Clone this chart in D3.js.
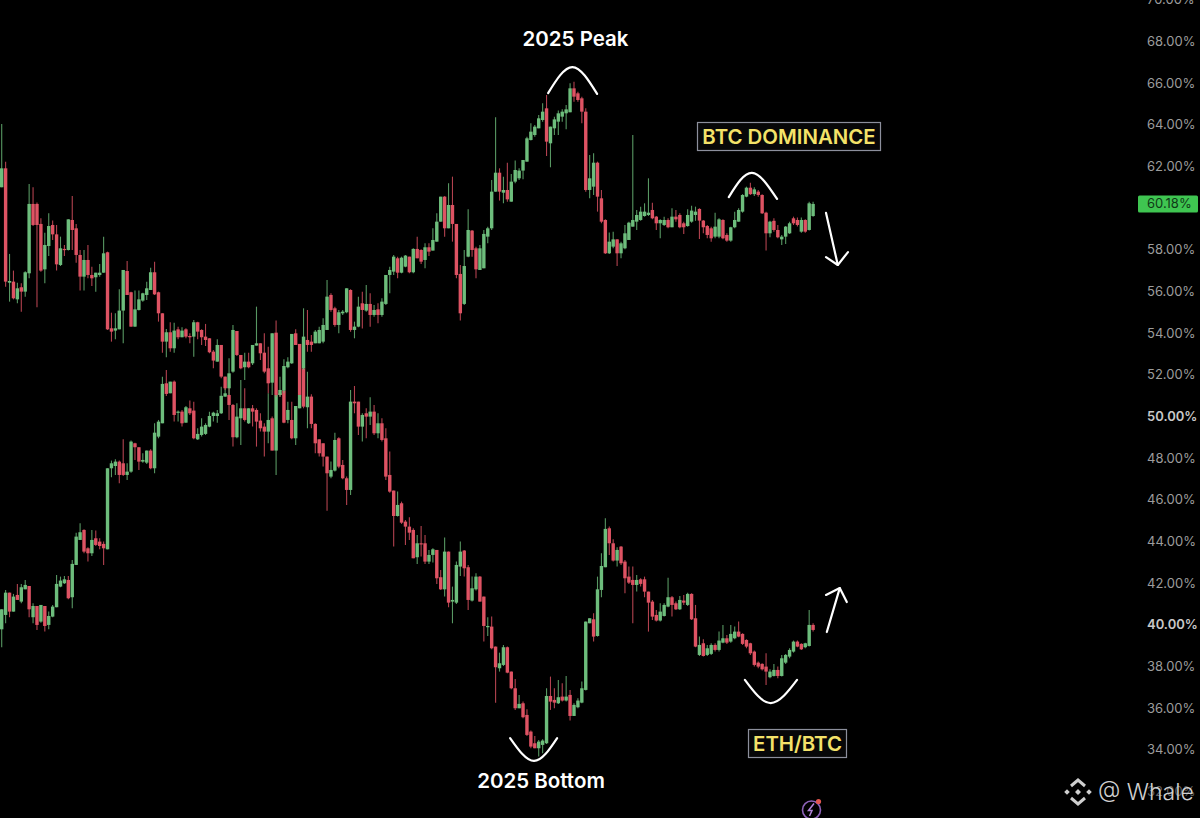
<!DOCTYPE html>
<html><head><meta charset="utf-8">
<script src="https://cdn.jsdelivr.net/npm/d3@7"></script>
<style>html,body{margin:0;padding:0;background:#000;overflow:hidden}svg{display:block}</style>
</head><body><div id="chart"></div>
<script>
// each candle: [open, high, low, close] in percent
const btcDominance = [
[60.98,64.02,60.98,61.89],[61.89,62.21,56.21,56.45],[56.40,57.78,55.49,56.48],[56.45,56.98,55.60,55.65],[55.60,56.40,55.41,56.13],
[56.18,56.37,55.01,55.97],[55.97,56.95,55.73,56.90],[56.85,61.14,56.61,60.18],[60.18,60.98,59.12,59.17],[60.18,60.25,55.22,59.17],
[59.22,59.49,56.93,56.98],[57.04,58.80,56.37,58.21],[58.16,59.73,57.68,59.12],[59.17,59.38,58.45,58.72],[58.72,59.17,56.98,57.28],
[57.25,58.61,57.20,58.05],[58.02,58.21,57.68,57.97],[57.97,59.44,57.94,59.44],[59.41,60.56,57.97,58.93],[59.01,59.22,57.36,57.73],
[57.73,57.97,56.02,56.69],[56.69,57.97,56.02,57.49],[57.49,58.21,56.61,56.77],[56.77,57.17,56.24,56.61],[56.66,56.88,55.97,56.88],
[56.77,57.30,56.69,56.88],[56.88,58.61,56.88,57.81],[57.86,57.89,54.13,54.16],[54.21,54.96,53.57,54.05],[54.10,54.93,53.68,54.21],
[54.16,56.08,54.16,55.06],[55.06,57.01,53.49,57.01],[56.96,57.44,55.81,55.81],[55.94,55.97,54.29,54.29],[54.29,56.02,54.29,55.12],
[55.09,56.02,55.06,55.60],[55.54,55.92,55.49,55.89],[55.81,56.45,55.57,56.13],[56.05,57.12,56.05,56.90],[56.90,57.41,55.81,55.84],
[55.94,55.97,54.53,54.93],[54.93,54.93,53.04,53.57],[53.57,54.18,52.82,54.02],[54.02,54.50,53.09,53.25],[53.25,54.48,53.04,54.10],
[54.16,54.29,53.68,53.78],[53.78,54.26,53.78,54.10],[54.16,54.21,53.73,53.81],[53.84,53.97,53.49,53.78],[53.81,54.61,52.85,54.50],
[54.50,54.53,53.68,54.05],[54.13,54.16,53.41,53.78],[53.81,54.42,53.36,53.65],[53.73,53.73,53.01,53.06],[53.09,53.17,52.29,52.66],
[52.61,53.68,52.61,53.41],[53.41,53.41,51.81,51.89],[51.89,51.89,51.25,51.33],[51.33,52.77,51.01,52.05],[52.13,54.37,52.08,54.13],
[54.08,54.08,52.88,52.93],[52.93,52.93,52.24,52.29],[52.34,53.04,51.73,52.61],[52.61,53.04,52.29,52.34],[52.53,53.41,52.45,53.41],
[53.38,55.25,53.38,53.49],[53.49,53.49,52.69,53.01],[53.04,53.97,52.05,52.13],[52.29,53.33,51.09,51.57],[51.60,53.97,51.01,53.97],
[54.00,54.58,50.93,51.01],[51.01,51.89,50.93,51.25],[51.22,52.72,51.09,52.40],[52.34,52.82,52.29,52.61],[52.53,53.94,52.50,53.94],
[53.97,54.16,53.41,53.41],[53.46,53.46,51.01,51.01],[52.29,55.17,52.21,53.81],[53.65,55.09,53.09,53.41],[53.57,53.89,53.09,53.41],
[53.49,54.13,53.49,54.05],[53.49,54.29,53.49,54.13],[53.57,54.69,53.49,54.37],[54.13,56.53,54.13,55.73],[55.81,55.89,55.01,55.09],
[55.17,55.25,54.29,54.37],[54.37,55.09,53.97,54.98],[54.93,55.09,54.85,55.01],[54.98,56.13,54.93,56.13],[56.05,56.08,54.05,54.13],
[54.13,54.53,53.73,54.29],[54.29,55.73,54.26,55.25],[55.41,55.97,54.20,55.09],[55.06,56.29,55.01,55.38],[55.38,55.89,54.29,54.85],
[54.85,55.33,54.77,55.09],[55.12,55.41,54.45,54.85],[54.85,55.65,54.77,55.49],[55.38,56.77,55.33,56.77],[56.77,57.17,55.89,57.01],
[56.93,57.73,56.77,57.65],[57.57,57.65,56.61,56.88],[56.88,57.65,56.85,57.60],[57.17,57.73,57.14,57.70],[57.65,57.65,56.85,56.90],
[56.90,58.05,56.85,58.02],[58.02,58.61,57.57,57.57],[57.97,58.00,57.30,57.41],[57.49,58.29,57.09,58.10],[58.10,58.29,57.68,57.89],
[57.94,59.01,57.94,58.45],[58.37,59.73,58.37,59.33],[59.33,60.53,59.33,60.53],[60.53,60.56,58.61,59.01],[59.01,61.17,59.01,60.13],
[60.13,61.49,58.37,59.22],[59.22,59.22,56.61,56.77],[56.82,57.25,54.58,54.93],[55.38,57.97,55.33,57.20],[57.65,59.92,57.62,58.93],
[58.90,58.93,57.65,57.97],[58.05,58.13,56.61,57.04],[57.01,58.21,57.01,58.05],[57.09,58.93,57.09,58.74],[58.61,59.09,58.29,59.01],
[59.01,61.33,58.93,60.77],[60.77,64.34,60.77,61.68],[61.68,61.89,60.34,60.77],[60.72,61.49,60.21,60.85],[60.85,62.16,60.29,60.40],
[60.29,61.62,60.29,61.25],[61.25,62.26,61.17,61.81],[61.41,61.89,61.33,61.78],[61.78,62.29,61.36,62.29],[62.21,63.41,62.21,63.33],
[63.25,64.05,63.22,63.65],[63.49,63.97,63.41,63.89],[63.81,64.45,63.81,64.29],[64.21,65.01,64.13,64.61],[64.77,65.41,62.48,63.17],
[63.09,63.89,61.94,63.89],[63.81,64.37,63.49,64.24],[64.13,64.66,63.49,64.53],[64.37,64.72,64.13,64.61],[64.53,64.93,63.76,64.72],
[64.58,65.97,64.58,65.73],[65.73,66.05,65.09,65.33],[65.49,65.57,65.09,65.17],[65.25,65.33,64.05,64.61],[64.61,64.77,60.77,60.85],
[60.85,62.53,60.45,61.41],[61.01,62.61,60.61,62.16],[62.16,62.21,59.81,60.53],[60.45,60.85,59.25,59.33],[59.41,59.44,57.78,57.81],
[57.81,58.81,57.78,58.37],[58.13,58.85,58.05,58.48],[58.48,58.48,57.20,57.81],[57.81,58.37,57.57,58.29],[58.05,59.17,58.00,58.77],
[58.45,59.33,58.45,59.28],[59.09,63.49,59.09,59.41],[59.33,59.89,58.93,59.65],[59.41,60.05,59.37,59.81],[59.60,60.21,59.57,59.81],
[59.65,61.41,59.60,59.76],[59.89,60.24,59.44,59.49],[59.57,59.60,58.93,59.25],[59.25,59.44,58.53,59.41],[59.17,59.57,59.12,59.41],
[59.41,59.49,59.01,59.06],[59.06,59.97,59.06,59.57],[59.57,59.89,59.33,59.44],[59.65,59.73,59.01,59.06],[59.25,59.33,58.74,59.06],
[59.12,59.92,59.09,59.65],[59.33,60.09,59.28,59.86],[59.65,60.05,59.37,59.81],[59.94,59.97,58.50,59.38],[59.38,59.41,58.77,59.06],
[59.12,59.17,58.53,58.69],[59.01,59.09,58.37,58.53],[58.61,59.76,58.53,59.09],[58.61,59.49,58.53,59.44],[59.41,59.44,58.48,58.53],
[58.69,58.77,58.37,58.42],[58.42,59.09,58.37,59.06],[59.06,59.81,59.01,59.41],[59.33,59.97,59.33,59.89],[59.81,60.65,59.76,60.61],
[60.53,61.01,60.50,60.96],[60.96,61.20,60.61,60.65],[60.65,60.98,60.56,60.88],[60.77,60.85,60.53,60.61],[60.61,60.65,59.70,59.73],
[59.76,59.81,57.94,58.77],[58.77,59.37,58.58,59.33],[59.37,59.49,58.85,58.93],[58.93,59.17,58.53,58.58],[58.48,58.69,58.21,58.61],
[58.61,59.12,58.26,59.09],[58.77,59.33,58.74,59.25],[59.49,59.57,59.17,59.25],[59.41,59.53,59.10,59.17],[58.85,59.53,58.80,59.41],
[59.41,59.45,58.80,58.85],[58.93,60.29,58.90,60.21],[59.60,60.29,59.57,60.18]
];
const ethBtc = [
[39.76,40.72,38.90,40.72],[40.45,41.65,40.05,41.52],[41.52,41.52,40.34,40.61],[40.61,41.46,40.61,41.33],[41.41,41.94,41.17,41.17],
[41.09,41.94,41.01,41.78],[41.68,42.13,41.68,41.89],[41.84,41.84,40.34,40.72],[40.34,41.01,40.05,40.88],[40.88,40.88,39.73,39.97],
[40.13,40.93,40.08,40.93],[40.88,40.88,39.65,39.92],[39.97,40.61,39.76,40.40],[40.37,40.93,40.34,40.85],[40.82,42.37,40.82,41.94],
[41.81,42.29,41.78,42.10],[41.97,42.32,41.94,42.16],[42.13,42.32,41.20,41.25],[41.30,43.09,40.77,42.90],[42.85,44.40,42.85,44.21],
[44.05,44.85,44.05,44.42],[44.53,44.56,43.41,43.49],[43.65,43.70,43.01,43.41],[43.41,44.53,43.28,44.05],[44.13,44.50,43.76,43.81],
[43.97,44.13,43.60,43.76],[43.86,43.97,42.85,43.65],[43.60,47.49,43.60,47.49],[47.49,47.86,47.06,47.73],[47.60,47.92,47.17,47.81],
[47.81,47.86,46.77,47.17],[47.73,48.88,47.12,47.17],[47.17,47.73,46.93,47.33],[47.33,48.82,47.28,48.77],[48.69,48.72,47.89,48.50],
[48.50,48.50,47.41,47.81],[47.81,48.21,47.76,47.89],[47.76,48.34,47.70,48.34],[48.34,48.40,47.44,47.49],[47.49,49.65,47.25,49.20],
[49.01,49.81,48.93,49.73],[49.65,51.89,49.65,51.54],[51.57,52.21,50.96,51.06],[51.09,51.65,51.09,51.65],[51.65,51.70,49.73,50.05],
[50.16,50.26,49.73,50.21],[50.21,50.29,49.49,49.65],[49.68,50.48,49.68,50.42],[50.37,50.74,50.05,50.13],[50.26,50.69,48.88,48.93],
[48.88,49.41,48.85,49.14],[49.09,49.89,49.01,49.49],[49.14,49.65,49.09,49.57],[49.49,50.21,49.46,50.00],[50.00,50.21,49.73,50.16],
[50.00,50.29,49.68,50.13],[50.13,51.41,50.10,50.97],[50.93,51.89,50.93,51.09],[51.01,51.41,49.81,50.53],[50.53,50.58,48.53,48.98],
[48.98,50.61,48.93,49.97],[49.89,51.73,48.61,50.37],[50.37,51.33,49.73,49.81],[49.65,50.37,49.62,50.37],[50.37,50.53,49.49,50.21],
[50.29,50.37,48.53,49.73],[49.78,50.13,49.25,49.41],[49.49,49.65,48.05,49.25],[49.25,51.09,48.69,49.81],[49.89,49.97,48.34,48.34],
[48.34,51.01,47.17,51.01],[51.09,51.25,50.93,51.01],[51.22,51.22,49.65,49.68],[49.81,50.69,49.65,50.29],[49.81,50.69,48.88,48.93],
[48.93,50.48,48.61,50.48],[50.37,51.73,50.37,51.01],[52.29,52.29,50.37,50.45],[50.42,52.13,49.41,50.93],[50.93,51.05,49.41,49.62],
[49.62,49.65,48.21,48.69],[48.88,48.88,48.05,48.21],[48.69,48.69,47.57,48.05],[48.05,48.05,45.45,47.25],[47.09,47.81,47.01,47.41],
[47.38,49.20,47.33,48.85],[48.93,48.98,47.49,47.57],[47.65,47.89,46.96,47.01],[47.01,47.09,45.73,46.45],[46.45,51.25,46.21,50.69],
[50.69,51.44,50.13,50.61],[50.69,50.69,49.09,49.49],[49.49,50.13,48.77,50.05],[50.13,50.37,48.93,49.97],[49.97,50.90,49.57,50.21],
[50.21,50.53,49.09,49.17],[49.17,50.13,48.93,49.65],[49.65,49.89,48.77,48.85],[48.93,49.41,46.93,47.09],[47.17,48.29,46.32,46.37],
[46.42,46.42,43.73,45.20],[45.20,46.37,45.17,45.73],[45.81,45.89,44.82,44.88],[44.93,45.01,43.81,44.69],[44.69,45.14,44.05,44.40],
[44.53,44.61,43.17,43.17],[43.22,44.29,42.90,43.89],[43.89,44.72,43.25,43.84],[43.89,44.29,42.90,43.01],[43.01,43.57,42.90,43.33],
[43.33,43.65,42.97,43.60],[43.57,43.57,41.94,42.21],[42.26,42.61,41.65,41.68],[41.68,44.17,41.33,43.49],[43.49,43.49,40.82,41.04],
[41.09,41.81,40.05,41.17],[41.04,43.01,40.98,42.85],[42.77,43.97,42.32,43.49],[43.54,43.57,42.29,42.69],[42.74,42.85,40.69,41.17],
[41.14,42.29,41.09,41.73],[41.68,42.45,41.62,42.29],[42.29,42.32,41.09,41.09],[41.33,41.33,39.17,39.92],[39.86,40.34,39.44,39.92],
[39.89,40.37,38.80,38.85],[38.93,38.93,36.24,37.94],[37.89,38.64,37.73,38.13],[38.05,39.01,38.00,38.90],[38.90,38.93,37.65,37.68],
[37.73,37.73,36.88,36.93],[36.93,37.37,35.89,35.97],[35.97,36.61,35.97,36.18],[36.21,36.29,35.49,35.54],[35.65,35.92,34.64,34.69],
[34.85,34.90,34.05,34.13],[34.29,34.64,34.05,34.05],[34.05,34.45,33.65,34.37],[34.21,34.48,33.81,34.42],[34.29,36.93,34.26,36.56],
[36.56,37.49,35.89,36.29],[36.37,36.93,35.97,36.24],[36.21,37.33,36.18,36.50],[36.53,37.17,36.29,36.34],[36.34,37.52,36.29,36.53],
[36.61,36.85,35.38,35.60],[35.60,36.21,35.60,36.13],[36.02,36.45,35.97,36.34],[36.24,37.25,36.21,36.93],[36.85,40.13,36.82,40.13],
[40.05,40.29,40.05,40.29],[40.24,40.53,39.17,39.41],[39.44,42.29,39.41,41.68],[41.65,43.41,41.30,42.80],[42.74,45.09,42.74,44.58],
[44.61,44.69,43.33,43.89],[43.89,44.08,43.01,43.06],[43.06,43.70,42.77,43.57],[43.73,43.76,42.85,42.93],[43.01,43.09,41.49,42.21],
[42.29,42.77,41.94,42.00],[42.13,42.77,40.05,41.89],[41.89,42.37,41.57,42.13],[42.16,42.21,41.81,41.94],[42.16,42.29,41.30,41.57],
[41.57,41.57,39.65,41.04],[41.09,41.17,40.21,40.37],[40.45,40.69,40.13,40.18],[40.18,41.01,40.13,40.61],[40.40,41.01,40.37,40.93],
[40.85,42.24,40.82,41.30],[41.30,41.36,40.37,40.93],[41.01,41.09,40.69,40.72],[40.72,41.36,40.69,41.17],[41.14,41.41,40.93,41.04],
[40.93,41.52,40.88,41.46],[41.46,41.49,40.21,40.24],[40.29,40.93,38.90,38.93],[38.53,39.41,38.48,39.01],[39.09,39.28,38.45,38.48],
[38.53,39.01,38.48,38.85],[38.58,39.09,38.53,39.01],[39.01,39.09,38.69,38.77],[38.77,39.65,38.69,39.22],[39.12,39.97,39.09,39.33],
[39.33,39.49,39.06,39.12],[39.17,39.97,39.12,39.54],[39.33,39.89,39.28,39.65],[39.65,40.13,39.38,39.41],[39.54,39.57,39.01,39.06],
[39.25,39.28,38.85,38.93],[39.09,39.12,38.53,38.61],[38.69,38.74,37.97,38.05],[38.16,38.21,37.89,37.97],[38.10,38.13,37.78,37.84],
[37.97,38.61,37.09,37.73],[37.46,37.84,37.41,37.73],[37.52,38.10,37.49,37.81],[37.81,37.97,37.41,37.52],[37.52,38.53,37.49,38.37],
[38.16,38.58,38.10,38.53],[38.45,38.85,38.37,38.77],[38.69,39.22,38.64,39.17],[39.17,39.22,38.90,38.93],[39.06,39.09,38.77,38.80],
[38.90,39.12,38.85,39.09],[38.96,40.69,38.93,39.97],[39.97,40.05,39.65,39.73]
];
const tickValues = [32,34,36,38,40,42,44,46,48,50,52,54,56,58,62,64,66,68,70];
const boldTicks = [40,50];
const lastPrice = 60.18;
const peakArc = [[139.4,65.5],[145.6,66.75],[151.9,65.46]];
const domArc = [[185.5,60.51],[191.4,61.67],[197.8,60.42]];
const bottomArc = [[129.7,34.54],[135.8,33.44],[141.7,34.54]];
const ethArc = [[189.6,37.33],[196.2,36.22],[202.9,37.33]];
const downArrow = [[[210.3,59.75],[213.3,57.25]],[[210.3,57.63],[213.3,57.25],[215.9,57.87]]];
const upArrow = [[[210.5,39.63],[213.8,41.74]],[[210.3,41.41],[213.8,41.74],[215.6,41.07]]];

const W = 1200, H = 818;
const svg = d3.select("#chart").append("svg").attr("width",W).attr("height",H).style("background","#000");
const defs = svg.append("defs");
defs.append("filter").attr("id","soft").attr("x","-5%").attr("y","-5%").attr("width","110%").attr("height","110%")
  .append("feGaussianBlur").attr("stdDeviation",0.35);

const x = d3.scaleLinear().domain([0,207]).range([1.7,813.1]);
const y = d3.scaleLinear().domain([50,34]).range([416,749.3]);
const UP = "#6dbd7b", DOWN = "#de5263";
const FONT = "Inter, 'Liberation Sans', sans-serif";

const candleLayer = svg.append("g").attr("filter","url(#soft)");
function drawCandles(data, name){
  const g = candleLayer.append("g").attr("class",name);
  const c = g.selectAll("g").data(data).join("g");
  c.append("line").attr("x1",(d,i)=>x(i)).attr("x2",(d,i)=>x(i))
    .attr("y1",d=>y(d[1])).attr("y2",d=>y(d[2]))
    .attr("stroke",d=>d[3]>=d[0]?UP:DOWN).attr("stroke-width",1.1).attr("stroke-opacity",0.8);
  c.append("rect").attr("x",(d,i)=>x(i)-1.7).attr("width",3.4)
    .attr("y",d=>y(Math.max(d[0],d[3])))
    .attr("height",d=>Math.max(1.2,Math.abs(y(d[0])-y(d[3]))))
    .attr("fill",d=>d[3]>=d[0]?UP:DOWN);
}
drawCandles(ethBtc,"eth");
drawCandles(btcDominance,"btc");

// right price axis
const axis = d3.axisRight(y).tickValues(tickValues).tickSize(0).tickPadding(0).tickFormat(d=>d.toFixed(2)+"%");
const ax = svg.append("g").attr("transform","translate(1147,0)").call(axis);
ax.select(".domain").remove();
ax.selectAll("text").attr("font-family",FONT).attr("font-size",13)
  .attr("fill",d=>boldTicks.includes(d)?"#c8c8c8":(d===32?"#5f5f5f":"#9c9c9c"))
  .attr("font-weight",d=>boldTicks.includes(d)?600:400).attr("dy","0.35em");

// last price tag
const tag = svg.append("g");
tag.append("rect").attr("x",1138).attr("width",60).attr("y",y(lastPrice)-8.5).attr("height",17).attr("rx",1.5).attr("fill","#3fc551");
tag.append("text").attr("x",1147).attr("y",y(lastPrice)).attr("dy","0.35em").attr("font-family",FONT)
  .attr("font-size",13).attr("fill","#0f3a17").text(lastPrice.toFixed(2)+"%");

// hand-drawn annotations
const arcLine = d3.line().x(d=>x(d[0])).y(d=>y(d[1])).curve(d3.curveNatural);
const straight = d3.line().x(d=>x(d[0])).y(d=>y(d[1]));
const ann = svg.append("g").attr("fill","none").attr("stroke","#fff").attr("stroke-width",2.2).attr("stroke-linecap","round").attr("stroke-linejoin","round");
[peakArc,domArc,bottomArc,ethArc].forEach(a=>ann.append("path").attr("d",arcLine(a)));
[downArrow,upArrow].forEach(ar=>ar.forEach(p=>ann.append("path").attr("d",straight(p))));

// text labels
function label(txt,cx,cy,size,fill,weight){
  return svg.append("text").attr("x",cx).attr("y",cy).attr("text-anchor","middle").attr("dy","0.35em")
    .attr("font-family",FONT).attr("font-size",size).attr("font-weight",weight).attr("fill",fill).text(txt);
}
label("2025 Peak",575.5,39,20.5,"#fff",600);
label("2025 Bottom",541,781,20.5,"#fff",600);
function boxed(txt,bx,by,bw,bh,size){
  svg.append("rect").attr("x",bx).attr("y",by).attr("width",bw).attr("height",bh).attr("fill","#070708").attr("stroke","#8c8f9c").attr("stroke-width",1.2);
  label(txt,bx+bw/2,by+bh/2,size,"#f4e269",600);
}
boxed("BTC DOMINANCE",697.5,122.5,183,28,20.4);
boxed("ETH/BTC",748.5,729.5,98,28,20.4);

// watermark
const wm = svg.append("g").attr("fill","#cfcfcf");
const rh = (cx,cy,r)=>`M${cx},${cy-r}L${cx+r},${cy}L${cx},${cy+r}L${cx-r},${cy}Z`;
wm.append("path").attr("d",[rh(1078,792,3),rh(1067,792,2.8),rh(1089,792,2.8)].join(""));
wm.append("path").attr("fill","none").attr("stroke","#cfcfcf").attr("stroke-width",3)
  .attr("d","M1071,786L1078,780L1085,786M1071,798L1078,804L1085,798");
wm.append("text").attr("x",1098).attr("y",792).attr("dy","0.35em").attr("font-family",FONT).attr("font-size",23).attr("font-weight",300).text("@ Whale");

// small lightning badge
const badge = svg.append("g");
badge.append("circle").attr("cx",811.5).attr("cy",810).attr("r",9).attr("fill","none").attr("stroke","#8d62b8").attr("stroke-width",1.6);
badge.append("path").attr("d","M814,803.5L808.5,810.5L812,810.5L809.5,816").attr("fill","none").attr("stroke","#b184d8").attr("stroke-width",1.5);
badge.append("circle").attr("cx",818.5).attr("cy",801.5).attr("r",2.6).attr("fill","#e2564f");
</script></body></html>
